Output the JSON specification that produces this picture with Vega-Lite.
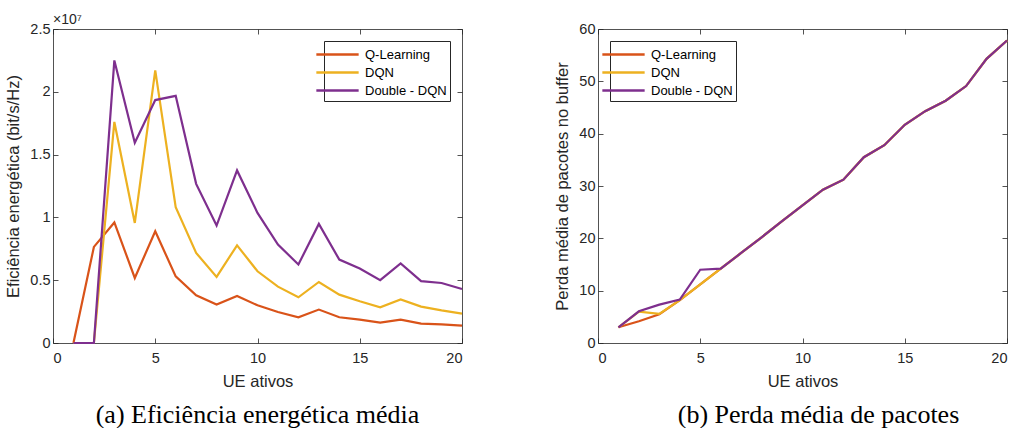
{
  "$schema": "https://vega.github.io/schema/vega-lite/v6.json",
  "background": "white",
  "padding": {"left": 5, "top": 13, "right": 0, "bottom": 0},
  "bounds": "flush",
  "spacing": 136,
  "config": {
    "view": {"stroke": null},
    "axis": {
      "grid": false, "domainColor": "#262626", "tickColor": "#262626", "labelColor": "#262626", "titleColor": "#262626",
      "labelFont": "Liberation Sans", "titleFont": "Liberation Sans", "labelFontSize": 14.5, "titleFontSize": 16.5,
      "titleFontWeight": "normal", "tickSize": -5, "domainWidth": 0.8, "tickWidth": 0.8
    },
    "axisX": {"labelPadding": 13, "titlePadding": 9},
    "axisY": {"labelPadding": 8, "titlePadding": 8},
    "legend": {
      "title": null, "offset": 12, "strokeColor": "#262626", "fillColor": "white", "padding": 3,
      "labelFont": "Liberation Sans", "labelFontSize": 13, "labelColor": "black",
      "symbolType": "M-2.35,0L2.35,0", "symbolSize": 324, "symbolStrokeWidth": 2.5, "labelOffset": 17, "rowPadding": 0
    }
  },
  "datasets": {
    "eff": [
      {"ue":1,"alg":"Q-Learning","v":0},{"ue":2,"alg":"Q-Learning","v":7650000},{"ue":3,"alg":"Q-Learning","v":9600000},{"ue":4,"alg":"Q-Learning","v":5180000},{"ue":5,"alg":"Q-Learning","v":8900000},
      {"ue":6,"alg":"Q-Learning","v":5300000},{"ue":7,"alg":"Q-Learning","v":3800000},{"ue":8,"alg":"Q-Learning","v":3060000},{"ue":9,"alg":"Q-Learning","v":3750000},{"ue":10,"alg":"Q-Learning","v":3000000},
      {"ue":11,"alg":"Q-Learning","v":2470000},{"ue":12,"alg":"Q-Learning","v":2050000},{"ue":13,"alg":"Q-Learning","v":2660000},{"ue":14,"alg":"Q-Learning","v":2050000},{"ue":15,"alg":"Q-Learning","v":1860000},
      {"ue":16,"alg":"Q-Learning","v":1620000},{"ue":17,"alg":"Q-Learning","v":1860000},{"ue":18,"alg":"Q-Learning","v":1550000},{"ue":19,"alg":"Q-Learning","v":1490000},{"ue":20,"alg":"Q-Learning","v":1390000},
      {"ue":1,"alg":"DQN","v":0},{"ue":2,"alg":"DQN","v":0},{"ue":3,"alg":"DQN","v":17600000},{"ue":4,"alg":"DQN","v":9560000},{"ue":5,"alg":"DQN","v":21700000},
      {"ue":6,"alg":"DQN","v":10810000},{"ue":7,"alg":"DQN","v":7170000},{"ue":8,"alg":"DQN","v":5260000},{"ue":9,"alg":"DQN","v":7780000},{"ue":10,"alg":"DQN","v":5710000},
      {"ue":11,"alg":"DQN","v":4490000},{"ue":12,"alg":"DQN","v":3640000},{"ue":13,"alg":"DQN","v":4860000},{"ue":14,"alg":"DQN","v":3850000},{"ue":15,"alg":"DQN","v":3320000},
      {"ue":16,"alg":"DQN","v":2840000},{"ue":17,"alg":"DQN","v":3460000},{"ue":18,"alg":"DQN","v":2900000},{"ue":19,"alg":"DQN","v":2600000},{"ue":20,"alg":"DQN","v":2340000},
      {"ue":1,"alg":"Double - DQN","v":0},{"ue":2,"alg":"Double - DQN","v":0},{"ue":3,"alg":"Double - DQN","v":22500000},{"ue":4,"alg":"Double - DQN","v":15940000},{"ue":5,"alg":"Double - DQN","v":19340000},
      {"ue":6,"alg":"Double - DQN","v":19680000},{"ue":7,"alg":"Double - DQN","v":12670000},{"ue":8,"alg":"Double - DQN","v":9350000},{"ue":9,"alg":"Double - DQN","v":13740000},{"ue":10,"alg":"Double - DQN","v":10360000},
      {"ue":11,"alg":"Double - DQN","v":7840000},{"ue":12,"alg":"Double - DQN","v":6250000},{"ue":13,"alg":"Double - DQN","v":9480000},{"ue":14,"alg":"Double - DQN","v":6640000},{"ue":15,"alg":"Double - DQN","v":5930000},
      {"ue":16,"alg":"Double - DQN","v":5000000},{"ue":17,"alg":"Double - DQN","v":6330000},{"ue":18,"alg":"Double - DQN","v":4920000},{"ue":19,"alg":"Double - DQN","v":4780000},{"ue":20,"alg":"Double - DQN","v":4300000}
    ],
    "loss": [
      {"ue":1,"alg":"Q-Learning","v":3.0},{"ue":2,"alg":"Q-Learning","v":4.15},{"ue":3,"alg":"Q-Learning","v":5.5},{"ue":4,"alg":"Q-Learning","v":8.2},{"ue":5,"alg":"Q-Learning","v":11.2},
      {"ue":6,"alg":"Q-Learning","v":14.2},{"ue":7,"alg":"Q-Learning","v":17.2},{"ue":8,"alg":"Q-Learning","v":20.2},{"ue":9,"alg":"Q-Learning","v":23.3},{"ue":10,"alg":"Q-Learning","v":26.3},
      {"ue":11,"alg":"Q-Learning","v":29.3},{"ue":12,"alg":"Q-Learning","v":31.2},{"ue":13,"alg":"Q-Learning","v":35.5},{"ue":14,"alg":"Q-Learning","v":37.8},{"ue":15,"alg":"Q-Learning","v":41.7},
      {"ue":16,"alg":"Q-Learning","v":44.3},{"ue":17,"alg":"Q-Learning","v":46.3},{"ue":18,"alg":"Q-Learning","v":49.1},{"ue":19,"alg":"Q-Learning","v":54.3},{"ue":20,"alg":"Q-Learning","v":57.8},
      {"ue":1,"alg":"DQN","v":3.0},{"ue":2,"alg":"DQN","v":6.0},{"ue":3,"alg":"DQN","v":5.55},{"ue":4,"alg":"DQN","v":8.2},{"ue":5,"alg":"DQN","v":11.2},
      {"ue":6,"alg":"DQN","v":14.2},{"ue":7,"alg":"DQN","v":17.2},{"ue":8,"alg":"DQN","v":20.2},{"ue":9,"alg":"DQN","v":23.3},{"ue":10,"alg":"DQN","v":26.3},
      {"ue":11,"alg":"DQN","v":29.3},{"ue":12,"alg":"DQN","v":31.2},{"ue":13,"alg":"DQN","v":35.5},{"ue":14,"alg":"DQN","v":37.8},{"ue":15,"alg":"DQN","v":41.7},
      {"ue":16,"alg":"DQN","v":44.3},{"ue":17,"alg":"DQN","v":46.3},{"ue":18,"alg":"DQN","v":49.1},{"ue":19,"alg":"DQN","v":54.3},{"ue":20,"alg":"DQN","v":57.8},
      {"ue":1,"alg":"Double - DQN","v":3.0},{"ue":2,"alg":"Double - DQN","v":6.06},{"ue":3,"alg":"Double - DQN","v":7.33},{"ue":4,"alg":"Double - DQN","v":8.29},{"ue":5,"alg":"Double - DQN","v":14.0},
      {"ue":6,"alg":"Double - DQN","v":14.2},{"ue":7,"alg":"Double - DQN","v":17.2},{"ue":8,"alg":"Double - DQN","v":20.2},{"ue":9,"alg":"Double - DQN","v":23.3},{"ue":10,"alg":"Double - DQN","v":26.3},
      {"ue":11,"alg":"Double - DQN","v":29.3},{"ue":12,"alg":"Double - DQN","v":31.2},{"ue":13,"alg":"Double - DQN","v":35.5},{"ue":14,"alg":"Double - DQN","v":37.8},{"ue":15,"alg":"Double - DQN","v":41.7},
      {"ue":16,"alg":"Double - DQN","v":44.3},{"ue":17,"alg":"Double - DQN","v":46.3},{"ue":18,"alg":"Double - DQN","v":49.1},{"ue":19,"alg":"Double - DQN","v":54.3},{"ue":20,"alg":"Double - DQN","v":57.8}
    ],
    "mult": [{"ue": 0, "v": 25000000, "t": "×10⁷"}]
  },
  "resolve": {"scale": {"color": "independent"}},
  "hconcat": [
    {
      "width": 409, "height": 314,
      "title": {"text": "(a) Eficiência energética média", "orient": "bottom", "font": "Liberation Serif", "fontSize": 26, "fontWeight": "normal", "color": "black", "offset": 12},
      "layer": [
        {
          "data": {"name": "eff"},
          "mark": {"type": "line", "strokeWidth": 2.2},
          "encoding": {
            "x": {"field": "ue", "type": "quantitative", "scale": {"domain": [0, 20], "nice": false}, "axis": {"values": [0, 5, 10, 15, 20], "title": "UE ativos"}},
            "y": {"field": "v", "type": "quantitative", "scale": {"domain": [0, 25000000], "nice": false, "zero": true}, "axis": {"values": [0, 5000000, 10000000, 15000000, 20000000, 25000000], "labelExpr": "format(datum.value/10000000, '~g')", "title": "Eficiência energética (bit/s/Hz)"}},
            "color": {"field": "alg", "type": "nominal", "sort": ["Q-Learning", "DQN", "Double - DQN"], "scale": {"domain": ["Q-Learning", "DQN", "Double - DQN"], "range": ["#D95319", "#EDB120", "#7E2F8E"]}, "legend": {"orient": "top-right"}}
          }
        },
        {
          "data": {"name": "eff"},
          "mark": {"type": "point", "opacity": 0},
          "encoding": {
            "x": {"field": "ue", "type": "quantitative", "scale": {"domain": [0, 20], "nice": false}, "axis": {"orient": "top", "values": [0, 5, 10, 15, 20], "labels": false, "title": null}},
            "y": {"field": "v", "type": "quantitative", "scale": {"domain": [0, 25000000], "nice": false}, "axis": {"orient": "right", "values": [0, 5000000, 10000000, 15000000, 20000000, 25000000], "labels": false, "title": null}}
          }
        },
        {
          "data": {"name": "mult"},
          "mark": {"type": "text", "align": "left", "baseline": "bottom", "dy": -2, "font": "Liberation Sans", "fontSize": 14, "color": "#262626"},
          "encoding": {
            "x": {"field": "ue", "type": "quantitative", "scale": {"domain": [0, 20], "nice": false}, "axis": null},
            "y": {"field": "v", "type": "quantitative", "scale": {"domain": [0, 25000000], "nice": false}, "axis": null},
            "text": {"field": "t"}
          }
        }
      ],
      "resolve": {"axis": {"x": "independent", "y": "independent"}}
    },
    {
      "width": 409, "height": 314,
      "title": {"text": "(b) Perda média de pacotes", "orient": "bottom", "font": "Liberation Serif", "fontSize": 26, "fontWeight": "normal", "color": "black", "offset": 12, "dx": 16},
      "layer": [
        {
          "data": {"name": "loss"},
          "mark": {"type": "line", "strokeWidth": 2.2},
          "encoding": {
            "x": {"field": "ue", "type": "quantitative", "scale": {"domain": [0, 20], "nice": false}, "axis": {"values": [0, 5, 10, 15, 20], "title": "UE ativos"}},
            "y": {"field": "v", "type": "quantitative", "scale": {"domain": [0, 60], "nice": false}, "axis": {"values": [0, 10, 20, 30, 40, 50, 60], "title": "Perda média de pacotes no buffer"}},
            "color": {"field": "alg", "type": "nominal", "sort": ["Q-Learning", "DQN", "Double - DQN"], "scale": {"domain": ["Q-Learning", "DQN", "Double - DQN"], "range": ["#D95319", "#EDB120", "#7E2F8E"]}, "legend": {"orient": "top-left"}}
          }
        },
        {
          "data": {"name": "loss"},
          "mark": {"type": "point", "opacity": 0},
          "encoding": {
            "x": {"field": "ue", "type": "quantitative", "scale": {"domain": [0, 20], "nice": false}, "axis": {"orient": "top", "values": [0, 5, 10, 15, 20], "labels": false, "title": null}},
            "y": {"field": "v", "type": "quantitative", "scale": {"domain": [0, 60], "nice": false}, "axis": {"orient": "right", "values": [0, 10, 20, 30, 40, 50, 60], "labels": false, "title": null}}
          }
        }
      ],
      "resolve": {"axis": {"x": "independent", "y": "independent"}}
    }
  ]
}
